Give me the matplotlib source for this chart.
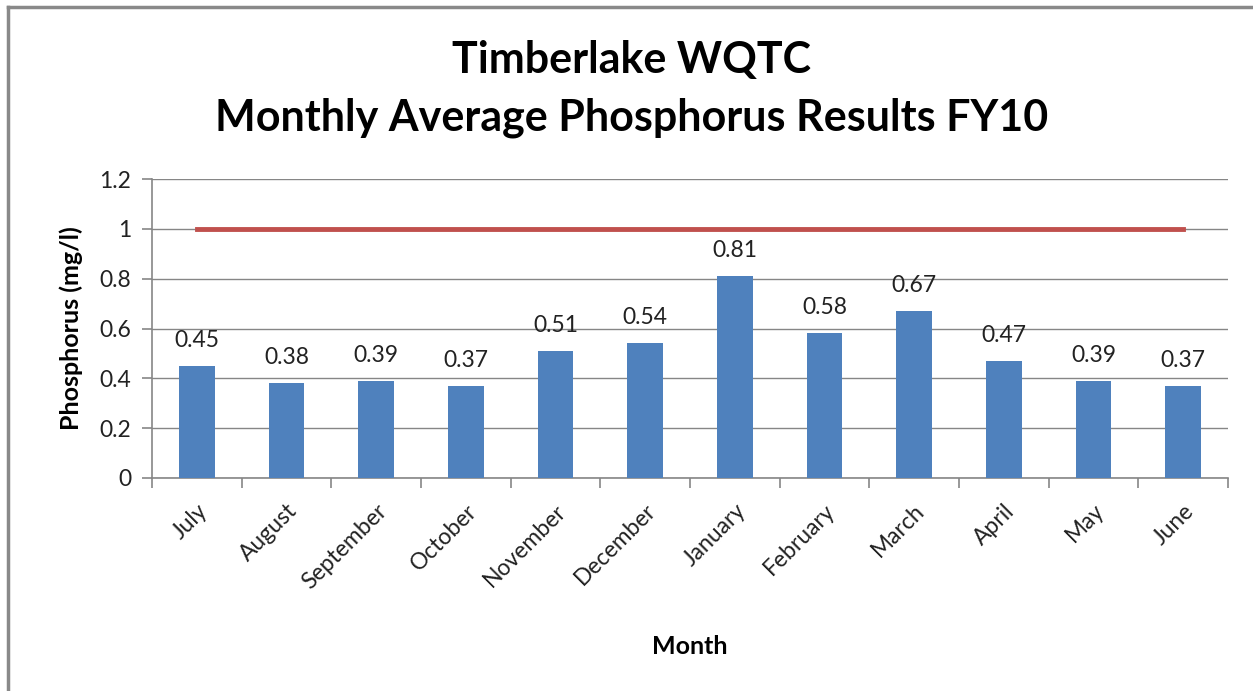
import matplotlib
matplotlib.use('Agg')
import matplotlib.pyplot as plt
from matplotlib.lines import Line2D
import numpy as np

months = ['July', 'August', 'September', 'October', 'November', 'December',
          'January', 'February', 'March', 'April', 'May', 'June']
phosphorus = [0.45, 0.38, 0.39, 0.37, 0.51, 0.54, 0.81, 0.58, 0.67, 0.47, 0.39, 0.37]
limit = [1.0] * len(months)
y_ticks = [0, 0.2, 0.4, 0.6, 0.8, 1, 1.2]
y_labels = ['0', '0.2', '0.4', '0.6', '0.8', '1', '1.2']

plt.rcParams['font.family'] = ['Lato', 'DejaVu Sans']

W, H = 1253, 691
fig = plt.figure(figsize=(W / 100, H / 100), dpi=100)
ax = fig.add_axes([152 / W, 1 - 478 / H, (1228 - 152) / W, (478 - 179) / H])

# outer chart frame (left and top edges only are visible)
fig.lines.append(Line2D([8 / W, 8 / W], [0, 1 - 7 / H], transform=fig.transFigure,
                        color='#898989', linewidth=2.5))
fig.lines.append(Line2D([8 / W, 1], [1 - 7 / H, 1 - 7 / H], transform=fig.transFigure,
                        color='#898989', linewidth=2.5))

x = np.arange(len(months))
ax.bar(x, phosphorus, width=0.4, color='#4F81BD', zorder=3)
ax.plot(x, limit, color='#C0504D', linewidth=3.5, zorder=4)

for xi, v in zip(x, phosphorus):
    ax.annotate(f'{v:.2f}', (xi, v), xytext=(0, 11), textcoords='offset points',
                ha='center', va='bottom', fontsize=16.5, color='#222222')

ax.set_xlim(-0.5, len(months) - 0.5)
ax.set_ylim(0, 1.2)
ax.set_yticks(y_ticks)
ax.set_yticklabels(y_labels, fontsize=16.5, color='#222222')
ax.set_xticks(x)
ax.set_xticklabels(months, rotation=45, ha='right', rotation_mode='anchor',
                   fontsize=16.5, color='#222222')
ax.set_xticks(np.arange(len(months) + 1) - 0.5, minor=True)
ax.tick_params(axis='x', which='major', length=0, pad=16)
ax.tick_params(axis='x', which='minor', length=7, color='#868686', width=1.2)
ax.tick_params(axis='y', length=7, color='#868686', width=1.2, pad=8)

ax.grid(axis='y', color='#868686', linewidth=1.0, zorder=0)
for side in ['top', 'right']:
    ax.spines[side].set_visible(False)
for side in ['left', 'bottom']:
    ax.spines[side].set_color('#868686')
    ax.spines[side].set_linewidth(1.2)

ax.set_ylabel('Phosphorus (mg/l)', fontsize=18, fontweight='bold', labelpad=12)
ax.set_xlabel('Month', fontsize=18, fontweight='bold', labelpad=30)

cx = 632 / W
fig.text(cx, 1 - 60 / H, 'Timberlake WQTC', ha='center', va='center',
         fontsize=31, fontweight='bold')
fig.text(cx, 1 - 118 / H, 'Monthly Average Phosphorus Results FY10',
         ha='center', va='center', fontsize=31, fontweight='bold')

fig.savefig('out.png', dpi=100)
